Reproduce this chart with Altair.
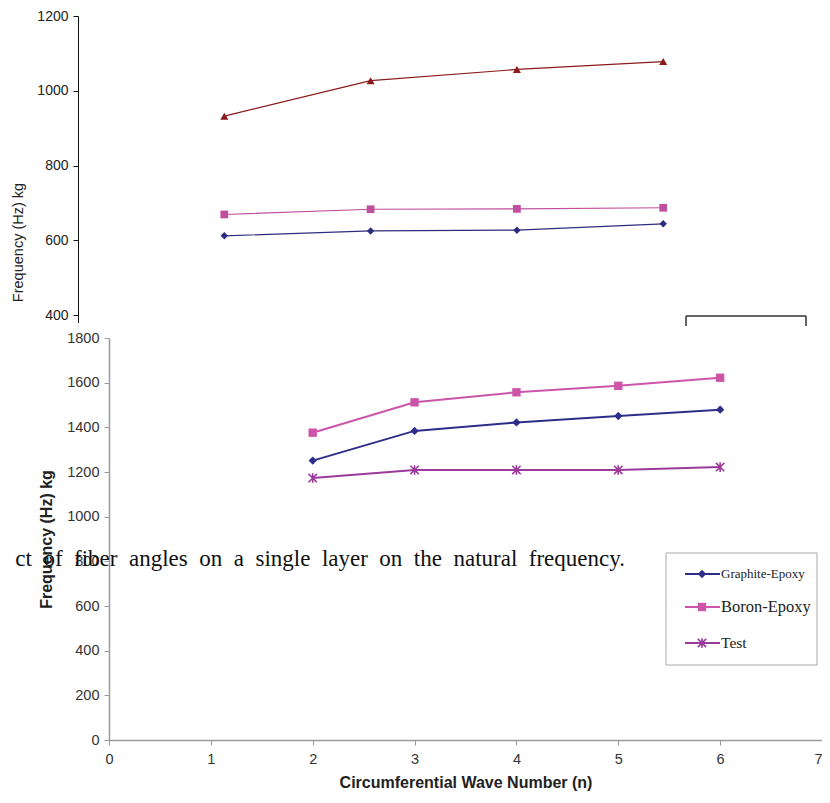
import altair as alt
import pandas as pd

# ---------------- data ----------------
# upper (partly hidden) chart
top_points = [1, 2, 3, 4]
top_graphite = [612, 625, 627, 644]
top_boron = [669, 683, 684, 687]
top_third = [932, 1027, 1057, 1078]
top_names = ["Graphite-Epoxy", "Boron-Epoxy", "Series 3"]
top_ticks = [400, 600, 800, 1000, 1200]

# lower chart
wave_numbers = [2, 3, 4, 5, 6]
graphite_epoxy = [1251, 1384, 1422, 1451, 1479]
boron_epoxy = [1376, 1512, 1557, 1586, 1622]
test_freq = [1173, 1209, 1209, 1209, 1222]
legend_labels = ["Graphite-Epoxy", "Boron-Epoxy", "Test"]
bottom_x_ticks = [0, 1, 2, 3, 4, 5, 6, 7]
bottom_y_ticks = [0, 200, 400, 600, 800, 1000, 1200, 1400, 1600, 1800]

caption_text = "ct\u00a0\u00a0of\u00a0\u00a0fiber\u00a0\u00a0angles\u00a0\u00a0on\u00a0\u00a0a\u00a0\u00a0single\u00a0\u00a0layer\u00a0\u00a0on\u00a0\u00a0the\u00a0\u00a0natural\u00a0\u00a0frequency."

# ---------------- layout ----------------
PL, PT = 101, 330          # plot origin on the page = (109, 338)
W, H = 713, 402
PR, PB = 0, 55
OX, OY = 8 + PL, 8 + PT


def px(x):
    return x - OX


def py(y):
    return y - OY


SANS = "Liberation Sans"
SERIF = "Liberation Serif"
STAR = "M-1,-1L1,1M-1,1L1,-1M0,-1.15L0,1.15"

# ---------------- upper chart ----------------
top_x_range = [px(78), px(78 + 4 * 146.3)]
top_y_range = [py(322.5), py(16)]


def tx():
    return alt.X("n:Q", scale=alt.Scale(domain=[0, 4], range=top_x_range), axis=None)


def ty():
    return alt.Y(
        "f:Q",
        scale=alt.Scale(domain=[380, 1200], range=top_y_range, nice=False, zero=False),
        axis=alt.Axis(
            orient="left", offset=OX - 78, values=top_ticks, grid=False, format="d",
            tickSize=5, tickColor="#111", tickWidth=1, domainColor="#111", domainWidth=1,
            labelFont=SANS, labelFontSize=14, labelColor="#222", labelPadding=5,
            title="Frequency (Hz) kg", titleFont=SANS, titleFontSize=14.5,
            titleFontWeight="normal", titleColor="#222",
            titleX=25 - 78, titleY=py(242),
        ),
    )


top_styles = [
    (top_graphite, "#2d2d80", "diamond", 55),
    (top_boron, "#c0509f", "square", 60),
    (top_third, "#8b1a1a", "triangle-up", 65),
]
top_layers = []
for name, (vals, col, shp, sz) in zip(top_names, top_styles):
    df = pd.DataFrame({"n": top_points, "f": vals, "s": name})
    base = alt.Chart(df).encode(x=tx(), y=ty())
    top_layers.append(base.mark_line(color=col, strokeWidth=1.2))
    top_layers.append(base.mark_point(shape=shp, filled=True, size=sz, color=col, opacity=1))
top_group = alt.layer(*top_layers)

# ---------------- lower chart ----------------


def bx():
    return alt.X(
        "n:Q",
        scale=alt.Scale(domain=[0, 7], nice=False),
        axis=alt.Axis(
            orient="bottom", values=bottom_x_ticks, grid=False, format="d",
            tickSize=5, tickColor="#9a9a9a", domainColor="#9a9a9a", domainWidth=1.5,
            labelFont=SANS, labelFontSize=14.5, labelColor="#333", labelPadding=7,
            labelFlush=False,
            labelAlign=alt.condition("datum.value == 7", alt.value("right"), alt.value("center")),
            title="Circumferential Wave Number (n)", titleFont=SANS, titleFontSize=16,
            titleFontWeight="bold", titleColor="#222", titlePadding=9,
        ),
    )


def by():
    return alt.Y(
        "f:Q",
        scale=alt.Scale(domain=[0, 1800], nice=False),
        axis=alt.Axis(
            orient="left", values=bottom_y_ticks, grid=False, format="d",
            tickSize=5, tickColor="#9a9a9a", domainColor="#9a9a9a", domainWidth=1.5,
            labelFont=SANS, labelFontSize=14.5, labelColor="#333", labelPadding=5,
            title="Frequency (Hz) kg", titleFont=SANS, titleFontSize=16,
            titleFontWeight="bold", titleColor="#222", titlePadding=12,
        ),
    )


bottom_styles = {
    "Graphite-Epoxy": dict(color="#2e2e8a", shape="diamond", filled=True, size=70, fs=13),
    "Boron-Epoxy": dict(color="#cc55aa", shape="square", filled=True, size=70, fs=16.5),
    "Test": dict(color="#9b3a9b", shape=STAR, filled=False, size=70, fs=15.5),
}
bottom_series = [graphite_epoxy, boron_epoxy, test_freq]
bottom_layers = []
for name, vals in zip(legend_labels, bottom_series):
    st = bottom_styles[name]
    df = pd.DataFrame({"n": wave_numbers, "f": vals, "s": name})
    base = alt.Chart(df).encode(x=bx(), y=by())
    bottom_layers.append(base.mark_line(color=st["color"], strokeWidth=2))
    bottom_layers.append(
        base.mark_point(shape=st["shape"], filled=st["filled"], size=st["size"],
                        color=st["color"], opacity=1, strokeWidth=1.6)
    )
bottom_group = alt.layer(*bottom_layers)

# ---------------- manual legend of the lower chart ----------------
LB = dict(x1=666, x2=817, y1=553, y2=665)
legend_box = alt.Chart(pd.DataFrame({"a": [0]})).mark_rect(
    fill="white", stroke="#a8a8a8", strokeWidth=1
).encode(
    x=alt.value(px(LB["x1"])), x2=alt.value(px(LB["x2"])),
    y=alt.value(py(LB["y1"])), y2=alt.value(py(LB["y2"])),
)
row_y = [574, 607, 643]
leg_layers = [legend_box]
for i, name in enumerate(legend_labels):
    st = bottom_styles[name]
    ldf = pd.DataFrame({"label": [name], "fs": [st["fs"]]})
    yy = py(row_y[i])
    leg_layers.append(
        alt.Chart(ldf).mark_rule(color=st["color"], strokeWidth=2).encode(
            x=alt.value(px(685)), x2=alt.value(px(720)), y=alt.value(yy))
    )
    leg_layers.append(
        alt.Chart(ldf).mark_point(shape=st["shape"], filled=st["filled"], size=st["size"],
                                  color=st["color"], opacity=1, strokeWidth=1.6).encode(
            x=alt.value(px(702)), y=alt.value(yy))
    )
    leg_layers.append(
        alt.Chart(ldf).mark_text(align="left", baseline="middle", font=SERIF, color="#222").encode(
            x=alt.value(px(721)), y=alt.value(yy),
            text="label:N", size=alt.Size("fs:Q", scale=None, legend=None))
    )

# fragment of the upper chart's legend frame, peeking out above the lower chart
frag = pd.DataFrame({
    "x": [px(686), px(686), px(806)],
    "x2": [px(806), px(686), px(806)],
    "y": [py(316), py(316), py(316)],
    "y2": [py(316), py(326), py(326)],
})
frag_layer = alt.Chart(frag).mark_rule(color="#333", strokeWidth=1.5).encode(
    x=alt.X("x:Q", scale=None, axis=None), x2="x2:Q",
    y=alt.Y("y:Q", scale=None, axis=None), y2="y2:Q",
)

# caption text overlapping the picture
caption = alt.Chart(pd.DataFrame({"t": [caption_text]})).mark_text(
    align="right", baseline="alphabetic", font=SERIF, fontSize=23, color="#111"
).encode(x=alt.value(px(625)), y=alt.value(py(566)), text="t:N")

chart = alt.layer(
    top_group, bottom_group, *leg_layers, frag_layer, caption
).resolve_scale(
    x="independent", y="independent"
).properties(
    width=W, height=H,
    padding={"left": PL, "top": PT, "right": PR, "bottom": PB},
    autosize=alt.AutoSizeParams(type="none"),
    background="white",
).configure_view(stroke=None)

chart.save("out.html", embed_options={"renderer": "svg", "actions": False})
